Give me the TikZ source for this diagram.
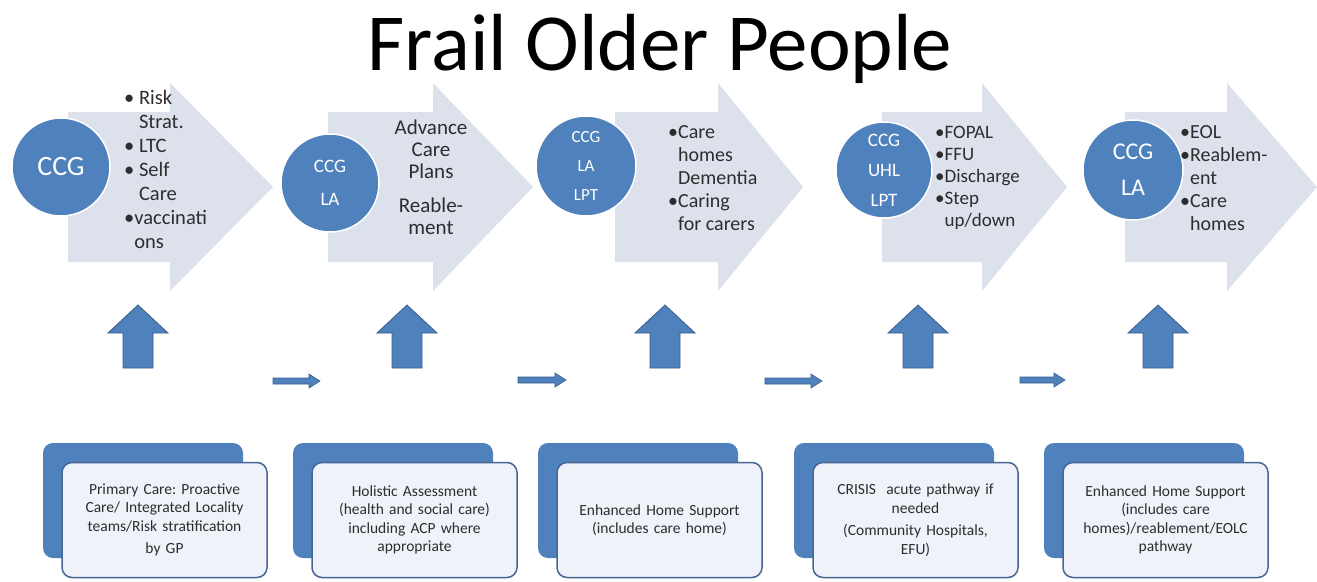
\documentclass[tikz,border=0pt]{standalone}
\usepackage{fontspec}
\setmainfont{Carlito}
\usetikzlibrary{positioning}

\definecolor{accblue}{RGB}{79,129,189}
\definecolor{chevgray}{RGB}{220,225,236}
\definecolor{boxfill}{RGB}{239,242,249}
\definecolor{boxline}{RGB}{72,102,148}
\definecolor{arrline}{RGB}{56,93,138}
\definecolor{txtgray}{RGB}{45,45,45}

\tikzset{
  chev/.style={fill=chevgray},
  hub/.style={circle,fill=accblue,draw=white,line width=1.5pt,text=white,
    inner sep=0pt,align=center},
  chevtext/.style={text=txtgray,inner sep=0pt},
  blockarr/.style={fill=accblue,draw=arrline,line width=0.8pt,line join=miter},
  backbox/.style={rectangle,rounded corners=10pt,fill=accblue,
    minimum width=200pt,minimum height=115pt},
  frontbox/.style={rectangle,rounded corners=10pt,fill=boxfill,draw=boxline,
    line width=1.5pt,minimum width=205pt,minimum height=115pt,text width=190pt,
    align=center,text=txtgray,font=\fontsize{15.5}{18.5}\selectfont\frenchspacing}
}

\begin{document}
\begin{tikzpicture}[x=1pt,y=-1pt]
  \useasboundingbox (0,0) rectangle (1317,581);
  \node[anchor=base,font=\fontsize{81}{81}\selectfont] (title) at (660,70) {Frail Older People};

  % chevrons
  \foreach \xl/\xb/\xt in {68/170/273,328/433/533,615/718/803,882/982/1067,1125/1227/1317}
    \fill[chev] (\xl,112) -- (\xb,112) -- (\xb,83) -- (\xt,187) -- (\xb,291)
      -- (\xb,262) -- (\xl,262) -- cycle;

  \node[hub,minimum size=98pt,font=\fontsize{28}{30}\selectfont] (c1) at (61,167) {CCG};
  \node[hub,minimum size=98pt,font=\fontsize{19}{33}\selectfont] (c2) at (330,183) {CCG\\LA};
  \node[hub,minimum size=100pt,font=\fontsize{17}{29}\selectfont] (c3) at (586,166) {CCG\\LA\\LPT};
  \node[hub,minimum size=96pt,font=\fontsize{19}{30}\selectfont] (c4) at (884,170) {CCG\\UHL\\LPT};
  \node[hub,minimum size=100pt,font=\fontsize{24}{36}\selectfont] (c5) at (1133,170) {CCG\\LA};

  \node[chevtext,anchor=west,align=left,font=\fontsize{20.5}{24}\selectfont] (t1) at (124,169)
    {• Risk\\\phantom{• }Strat.\\• LTC\\• Self\\\phantom{• }Care\\•vaccinati\\\phantom{•}ons};
  \node[chevtext,align=center,font=\fontsize{21}{22}\selectfont] (t2) at (431,177)
    {Advance\\Care\\Plans\\[12pt]Reable-\\ment};
  \node[chevtext,anchor=west,align=left,font=\fontsize{20}{23}\selectfont] (t3) at (668,178)
    {•Care\\\phantom{•}homes\\\phantom{•}Dementia\\•Caring\\\phantom{•}for carers};
  \node[chevtext,anchor=west,align=left,font=\fontsize{19}{22}\selectfont] (t4) at (935,178)
    {•FOPAL\\•FFU\\•Discharge\\•Step\\\phantom{•}up/down};
  \node[chevtext,anchor=west,align=left,font=\fontsize{20}{23}\selectfont] (t5) at (1180,178)
    {•EOL\\•Reablem-\\\phantom{•}ent\\•Care\\\phantom{•}homes};

  % up arrows
  \foreach \x in {138,407,665,918,1158}
    \draw[blockarr] (\x-15,368) -- (\x-15,333) -- (\x-30,333) -- (\x,305)
      -- (\x+30,333) -- (\x+15,333) -- (\x+15,368) -- cycle;

  % small arrows
  \foreach \xa/\xb/\y in {273/320/381,518/566/380,765/822/381,1020/1065/380}
    \draw[blockarr,line width=0.6pt] (\xa,\y-3) -- (\xb-11,\y-3) -- (\xb-11,\y-7)
      -- (\xb,\y) -- (\xb-11,\y+7) -- (\xb-11,\y+3) -- (\xa,\y+3) -- cycle;

  % boxes
  \foreach \i/\x/\txt in {
      1/143/{Primary Care: Proactive\\Care/ Integrated Locality\\teams/Risk stratification\\[4pt]by GP},
      2/393/{Holistic Assessment\\(health and social care)\\including ACP where\\appropriate},
      3/638/{Enhanced Home Support\\(includes care home)},
      4/894/{CRISIS\ \ acute pathway if\\needed\\[4pt](Community Hospitals,\\EFU)},
      5/1144/{Enhanced Home Support\\(includes care\\homes)/reablement/EOLC\\pathway}} {
    \node[backbox] (b\i) at (\x,500.5) {};
    \node[frontbox] (f\i) at ([shift={(21.5,19.5)}]b\i.center) {\txt};
  }
\end{tikzpicture}
\end{document}
